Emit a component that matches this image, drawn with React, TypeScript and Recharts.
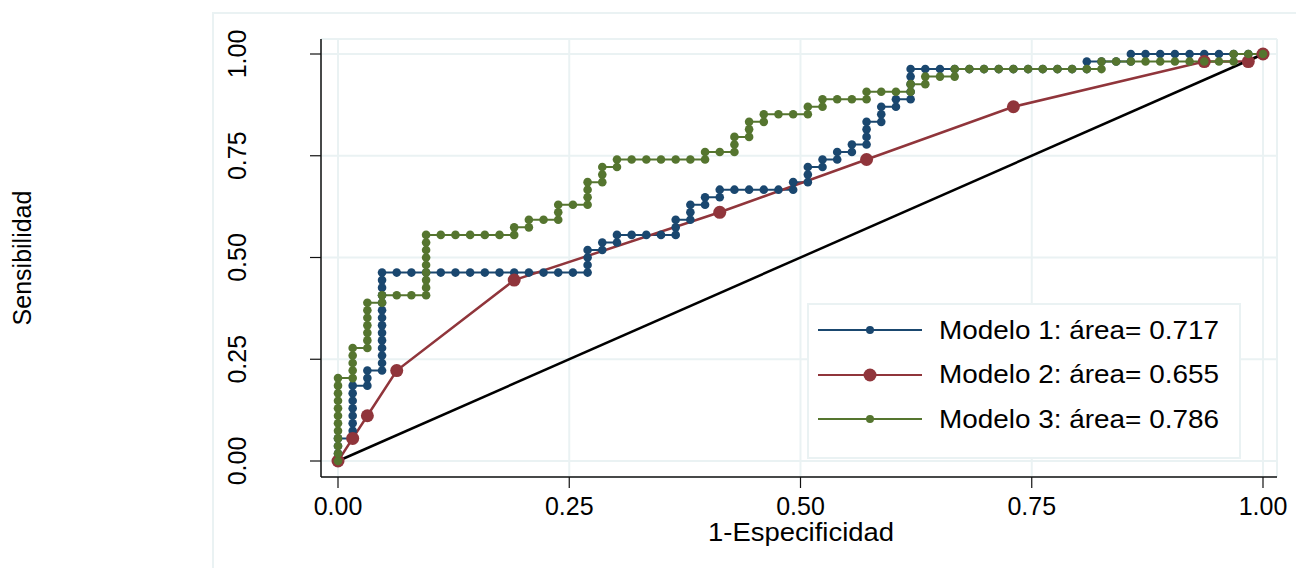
import { LineChart, Line, XAxis, YAxis, CartesianGrid, Legend } from "recharts";

// ROC points as counts (false positives out of 63 negatives, true positives out of 54 positives)
const NEGATIVES = 63;
const POSITIVES = 54;

const model1Counts: [number, number][] = [
  [0, 0], [0, 1], [0, 2], [0, 3],
  [1, 3], [1, 4], [1, 5], [1, 6], [1, 7], [1, 8], [1, 9], [1, 10],
  [2, 10], [2, 11], [2, 12],
  [3, 12], [3, 13], [3, 14], [3, 15], [3, 16], [3, 17], [3, 18], [3, 19], [3, 20], [3, 21], [3, 22], [3, 23], [3, 24], [3, 25],
  [4, 25], [5, 25], [6, 25], [7, 25], [8, 25], [9, 25], [10, 25], [11, 25], [12, 25], [13, 25], [14, 25], [15, 25], [16, 25], [17, 25],
  [17, 26], [17, 27], [17, 28],
  [18, 28], [18, 29],
  [19, 29], [19, 30],
  [20, 30], [21, 30], [22, 30], [23, 30],
  [23, 31], [23, 32],
  [24, 32], [24, 33], [24, 34],
  [25, 34], [25, 35],
  [26, 35], [26, 36],
  [27, 36], [28, 36], [29, 36], [30, 36], [31, 36],
  [31, 37],
  [32, 37], [32, 38], [32, 39],
  [33, 39], [33, 40],
  [34, 40], [34, 41],
  [35, 41], [35, 42],
  [36, 42], [36, 43], [36, 44], [36, 45],
  [37, 45], [37, 46], [37, 47],
  [38, 47], [38, 48],
  [39, 48], [39, 49], [39, 50], [39, 51], [39, 52],
  [40, 52], [41, 52], [42, 52], [43, 52], [44, 52], [45, 52], [46, 52], [47, 52], [48, 52], [49, 52], [50, 52], [51, 52],
  [51, 53],
  [52, 53], [53, 53], [54, 53],
  [54, 54],
  [55, 54], [56, 54], [57, 54], [58, 54], [59, 54], [60, 54], [61, 54], [62, 54], [63, 54],
];

const model2Counts: [number, number][] = [
  [0, 0], [1, 3], [2, 6], [4, 12], [12, 24], [26, 33], [36, 40], [46, 47], [59, 53], [62, 53], [63, 54],
];

const model3Counts: [number, number][] = [
  [0, 0], [0, 1], [0, 2], [0, 3], [0, 4], [0, 5], [0, 6], [0, 7], [0, 8], [0, 9], [0, 10], [0, 11],
  [1, 11], [1, 12], [1, 13], [1, 14], [1, 15],
  [2, 15], [2, 16], [2, 17], [2, 18], [2, 19], [2, 20], [2, 21],
  [3, 21], [3, 22],
  [4, 22], [5, 22], [6, 22],
  [6, 23], [6, 24], [6, 25], [6, 26], [6, 27], [6, 28], [6, 29], [6, 30],
  [7, 30], [8, 30], [9, 30], [10, 30], [11, 30], [12, 30],
  [12, 31],
  [13, 31], [13, 32],
  [14, 32], [15, 32],
  [15, 33], [15, 34],
  [16, 34], [17, 34],
  [17, 35], [17, 36], [17, 37],
  [18, 37], [18, 38], [18, 39],
  [19, 39], [19, 40],
  [20, 40], [21, 40], [22, 40], [23, 40], [24, 40], [25, 40],
  [25, 41],
  [26, 41], [27, 41],
  [27, 42], [27, 43],
  [28, 43], [28, 44], [28, 45],
  [29, 45], [29, 46],
  [30, 46], [31, 46], [32, 46],
  [32, 47],
  [33, 47], [33, 48],
  [34, 48], [35, 48], [36, 48],
  [36, 49],
  [37, 49], [38, 49], [39, 49],
  [39, 50],
  [40, 50], [40, 51],
  [41, 51], [42, 51],
  [42, 52],
  [43, 52], [44, 52], [45, 52], [46, 52], [47, 52], [48, 52], [49, 52], [50, 52], [51, 52], [52, 52],
  [52, 53],
  [53, 53], [54, 53], [55, 53], [56, 53], [57, 53], [58, 53], [59, 53], [60, 53], [61, 53],
  [61, 54],
  [62, 54], [63, 54],
];

const referenceLine = [
  { x: 0, y: 0 },
  { x: 1, y: 1 },
];

const seriesNames = [
  "Modelo 1: área= 0.717",
  "Modelo 2: área= 0.655",
  "Modelo 3: área= 0.786",
];
const axisTicks = [0, 0.25, 0.5, 0.75, 1];

const NAVY = "#1a476f";
const MAROON = "#90353b";
const FOREST = "#55752f";
const GRID = "#eaf2f3";
const FONT = "'Liberation Sans', Arial, sans-serif";

const toRates = (pts: [number, number][]) =>
  pts.map(([fp, tp]) => ({ x: fp / NEGATIVES, y: tp / POSITIVES }));

const model1 = toRates(model1Counts);
const model2 = toRates(model2Counts);
const model3 = toRates(model3Counts);

const legendItems = [
  { name: seriesNames[0], color: NAVY, r: 4 },
  { name: seriesNames[1], color: MAROON, r: 6.5 },
  { name: seriesNames[2], color: FOREST, r: 4 },
];

const XTick = ({ x, y, payload }: any) => (
  <text x={x} y={y + 25} textAnchor="middle" fontSize={25} fontFamily={FONT} fill="#000">
    {Number(payload.value).toFixed(2)}
  </text>
);

const YTick = ({ x, y, payload }: any) => {
  const bx = x - 62;
  return (
    <text
      x={bx}
      y={y}
      transform={`rotate(-90 ${bx} ${y})`}
      textAnchor="middle"
      fontSize={25}
      fontFamily={FONT}
      fill="#000"
    >
      {Number(payload.value).toFixed(2)}
    </text>
  );
};

const YTitle = ({ viewBox }: any) => {
  const bx = viewBox.x + 31;
  const cy = viewBox.y + viewBox.height / 2;
  return (
    <text
      x={bx}
      y={cy}
      transform={`rotate(-90 ${bx} ${cy})`}
      textAnchor="middle"
      fontSize={25}
      fontFamily={FONT}
      fill="#000"
    >
      Sensibilidad
    </text>
  );
};

// Stata's titles come out a bit wider than Liberation Sans, so stretch to the measured width
const XTitle = ({ viewBox }: any) => (
  <text
    x={viewBox.x + viewBox.width / 2 + 2}
    y={viewBox.y + 64}
    textAnchor="middle"
    fontSize={25}
    textLength={186}
    lengthAdjust="spacingAndGlyphs"
    fontFamily={FONT}
    fill="#000"
  >
    1-Especificidad
  </text>
);

const RocLegend = () => (
  <div
    style={{
      boxSizing: "border-box",
      width: 434,
      height: 156,
      border: `2px solid ${GRID}`,
      background: "#fff",
      paddingTop: 3,
      fontFamily: FONT,
    }}
  >
    {legendItems.map((item) => (
      <div
        key={item.name}
        style={{ display: "flex", alignItems: "center", height: 44.5 }}
      >
        <svg width={130} height={20} style={{ display: "block", flex: "none" }}>
          <line x1={9} x2={113} y1={10} y2={10} stroke={item.color} strokeWidth={2} />
          <circle cx={61} cy={10} r={item.r} fill={item.color} />
        </svg>
        <span
          style={{
            fontSize: 25.6,
            color: "#000",
            whiteSpace: "nowrap",
            display: "inline-block",
            transform: "scaleX(1.09)",
            transformOrigin: "left center",
          }}
        >
          {item.name}
        </span>
      </div>
    ))}
  </div>
);

export default function App() {
  return (
    <div
      style={{
        position: "absolute",
        left: 0,
        top: 0,
        width: 1296,
        height: 568,
        background: "#fff",
        overflow: "hidden",
      }}
    >
      <div
        style={{
          position: "absolute",
          left: 212,
          top: 12,
          width: 1200,
          height: 700,
          borderLeft: `2px solid ${GRID}`,
          borderTop: `2px solid ${GRID}`,
        }}
      />
      <div style={{ position: "absolute", left: 0, top: 0 }}>
        <LineChart
          width={1296}
          height={568}
          margin={{ top: 39, right: 19, bottom: 0, left: 0 }}
        >
          <CartesianGrid stroke={GRID} strokeWidth={2} />
          <XAxis
            type="number"
            dataKey="x"
            domain={[-0.01838, 1.01514]}
            allowDataOverflow
            ticks={axisTicks}
            interval={0}
            height={91}
            tickSize={11}
            axisLine={{ stroke: "#111", strokeWidth: 1.5 }}
            tickLine={{ stroke: "#111", strokeWidth: 1.2 }}
            tick={<XTick />}
            label={<XTitle />}
          />
          <YAxis
            type="number"
            dataKey="y"
            domain={[-0.03931, 1.03686]}
            allowDataOverflow
            ticks={axisTicks}
            interval={0}
            width={321}
            tickSize={11}
            axisLine={{ stroke: "#111", strokeWidth: 1.5 }}
            tickLine={{ stroke: "#111", strokeWidth: 1.2 }}
            tick={<YTick />}
            label={<YTitle />}
          />
          <Legend
            layout="vertical"
            align="center"
            verticalAlign="middle"
            wrapperStyle={{ left: 807, top: 303, width: 434, height: 156 }}
            content={() => <RocLegend />}
          />
          <Line
            data={model1}
            dataKey="y"
            name={seriesNames[0]}
            type="linear"
            stroke={NAVY}
            strokeWidth={2}
            dot={{ r: 4.3, fill: NAVY, stroke: NAVY, strokeWidth: 0 }}
            activeDot={false}
            isAnimationActive={false}
          />
          <Line
            data={model2}
            dataKey="y"
            name={seriesNames[1]}
            type="linear"
            stroke={MAROON}
            strokeWidth={2.5}
            dot={{ r: 6.5, fill: MAROON, stroke: MAROON, strokeWidth: 0 }}
            activeDot={false}
            isAnimationActive={false}
          />
          <Line
            data={model3}
            dataKey="y"
            name={seriesNames[2]}
            type="linear"
            stroke={FOREST}
            strokeWidth={2}
            dot={{ r: 4.3, fill: FOREST, stroke: FOREST, strokeWidth: 0 }}
            activeDot={false}
            isAnimationActive={false}
          />
          <Line
            data={referenceLine}
            dataKey="y"
            type="linear"
            stroke="#000"
            strokeWidth={2.5}
            dot={false}
            activeDot={false}
            legendType="none"
            isAnimationActive={false}
          />
        </LineChart>
      </div>
    </div>
  );
}
